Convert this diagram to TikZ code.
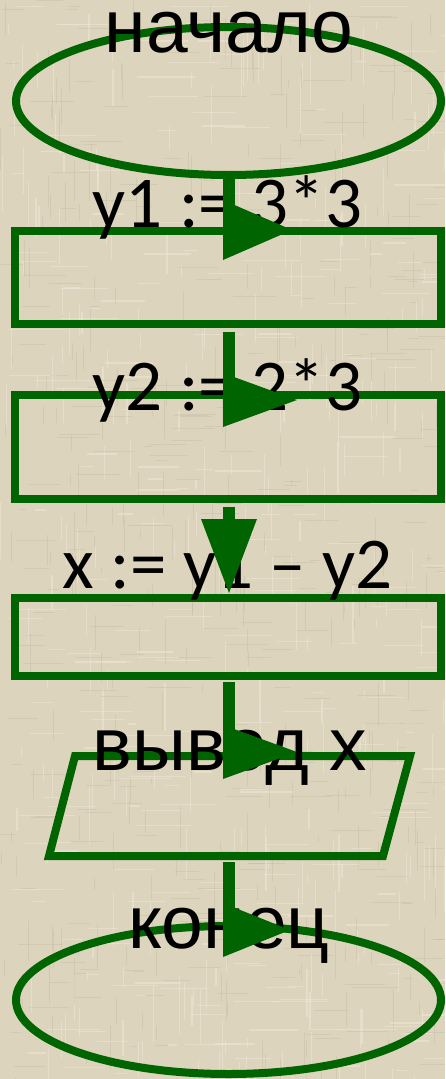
\documentclass[tikz,border=0pt]{standalone}
\usepackage{fontspec}
\newfontfamily\farial{Liberation Sans}
\newfontfamily\fcarl{Carlito}
\usetikzlibrary{shapes.geometric,calc}
\definecolor{fgreen}{RGB}{0,100,0}
\definecolor{bgbase}{RGB}{221,212,190}
\definecolor{bglight}{RGB}{238,231,214}
\definecolor{bgdark}{RGB}{192,182,158}
\begin{document}
\begin{tikzpicture}[x=1pt,y=-1pt,
  box/.style={draw=fgreen,line width=8pt,rectangle,inner sep=0pt,outer sep=0pt},
  term/.style={draw=fgreen,line width=8pt,ellipse,inner sep=0pt,outer sep=0pt},
  lbl/.style={anchor=base,inner sep=0pt,text=black},
  cyr/.style={lbl,font=\farial\fontsize{75}{80}\selectfont},
  lat/.style={lbl,font=\fcarl\fontsize{73}{80}\selectfont},
  shaft/.style={draw=fgreen,line width=12pt},
  head/.style={fill=fgreen},
  texl/.style={draw=bglight,line width=1.2pt,opacity=0.55},
  texd/.style={draw=bgdark,line width=1pt,opacity=0.35}]
% background
\fill[bgbase] (0,0) rectangle (445,1079);
\useasboundingbox (0,0) rectangle (445,1079);
\begin{scope}
\clip (0,0) rectangle (445,1079);
\pgfmathsetseed{17}
\foreach \i in {1,...,260}{
  \pgfmathsetmacro{\xx}{rnd*445}
  \pgfmathsetmacro{\yy}{rnd*1079}
  \pgfmathsetmacro{\ll}{8+rnd*50}
  \draw[texl] (\xx,\yy) -- ++(0,\ll);
  \pgfmathsetmacro{\xa}{rnd*445}
  \pgfmathsetmacro{\ya}{rnd*1079}
  \pgfmathsetmacro{\la}{8+rnd*50}
  \draw[texl] (\xa,\ya) -- ++(\la,0);
  \pgfmathsetmacro{\xb}{rnd*445}
  \pgfmathsetmacro{\yb}{rnd*1079}
  \pgfmathsetmacro{\lb}{6+rnd*40}
  \draw[texd] (\xb,\yb) -- ++(0,\lb);
  \pgfmathsetmacro{\xc}{rnd*445}
  \pgfmathsetmacro{\yc}{rnd*1079}
  \pgfmathsetmacro{\lc}{6+rnd*40}
  \draw[texd] (\xc,\yc) -- ++(\lc,0);
}
\end{scope}
% shapes
\node[term, minimum width=425pt, minimum height=148pt] (e1) at (228.5,101) {};
\node[box, minimum width=426pt, minimum height=93pt] (r1) at (228,277.5) {};
\node[box, minimum width=426pt, minimum height=104pt] (r2) at (228,447) {};
\node[box, minimum width=426pt, minimum height=78pt] (r3) at (228,637) {};
\coordinate (pA) at (75,756);
\coordinate (pB) at (410,756);
\coordinate (pC) at (383,856);
\coordinate (pD) at (49,856);
\coordinate (pBot) at (229,856);
\draw[fgreen,line width=8pt] (pA) -- (pB) -- (pC) -- (pD) -- cycle;
\node[term, minimum width=425pt, minimum height=148pt] (e2) at (228.5,1000) {};
% texts
\node[cyr] (t1) at (229,52) {начало};
\node[lat] (t2) at (227.5,227) {y1 := 3*3};
\node[lat] (t3) at (227.5,410) {y2 := 2*3};
\node[lat] (t4) at (227.5,588) {x := y1 – y2};
\node[cyr] (t5) at (230,770) {вывод х};
\node[cyr] (t6) at (229,948) {конец};
% connectors
\coordinate (h1) at (229,230);
\coordinate (h2) at (229,400);
\coordinate (h3) at (229,519);
\coordinate (h4) at (229,752);
\coordinate (h5) at (229,930);
\draw[shaft] (e1.south -| h1) -- (h1);
\draw[shaft] ($(r1.south -| h2)+(0,8)$) -- (h2);
\draw[shaft] ($(r2.south -| h3)+(0,8)$) -- (h3);
\draw[shaft] ($(r3.south -| h4)+(0,6)$) -- (h4);
\draw[shaft] ($(pBot)+(0,6)$) -- (h5);
\fill[head] ($(h1)+(-6,-30)$) -- ($(h1)+(-6,30)$) -- ($(h1)+(63,0)$) -- cycle;
\fill[head] ($(h2)+(-6,-27)$) -- ($(h2)+(-6,27)$) -- ($(h2)+(68,0)$) -- cycle;
\fill[head] ($(h3)+(-28,0)$) -- ($(h3)+(28,0)$) -- ($(h3)+(0,74)$) -- cycle;
\fill[head] ($(h4)+(-6,-27)$) -- ($(h4)+(-6,27)$) -- ($(h4)+(68,0)$) -- cycle;
\fill[head] ($(h5)+(-6,-27)$) -- ($(h5)+(-6,27)$) -- ($(h5)+(61,0)$) -- cycle;
\end{tikzpicture}
\end{document}
